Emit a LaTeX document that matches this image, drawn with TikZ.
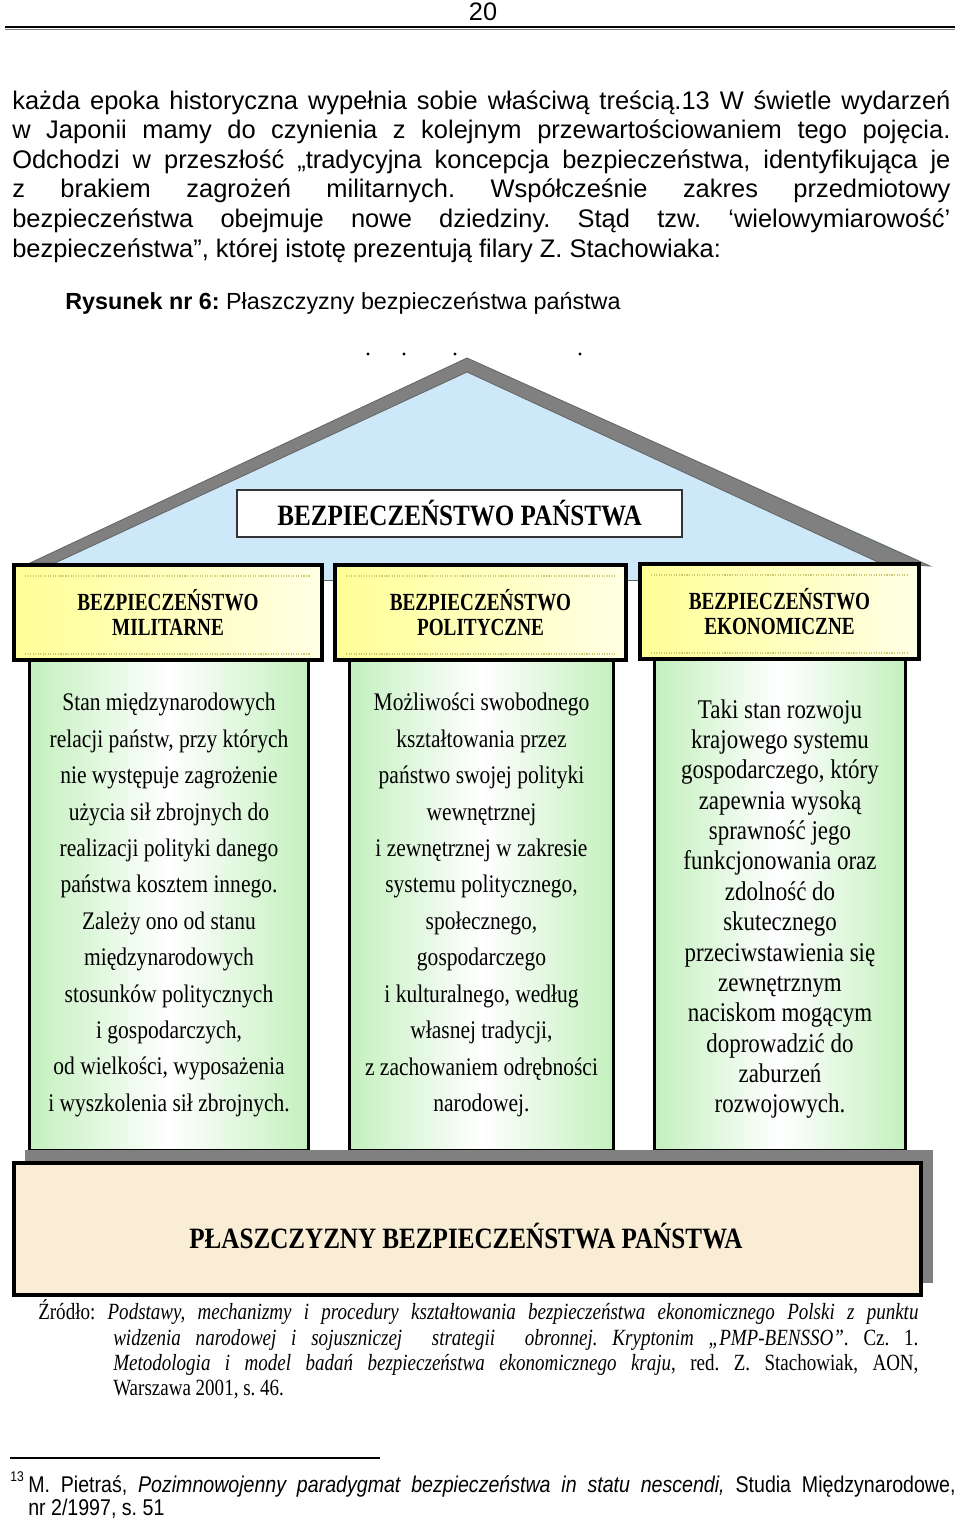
\documentclass[tikz,border=0pt]{standalone}
\usepackage{fontspec}
\setmainfont{Liberation Sans}
\newfontfamily\pillarfont[FakeStretch=0.85]{Liberation Serif}
\newfontfamily\capfont[FakeStretch=0.78]{Liberation Serif}
\newfontfamily\sourcefont[FakeStretch=0.82]{Liberation Serif}
\newfontfamily\notefont[FakeStretch=0.86]{Liberation Sans}
\usetikzlibrary{positioning,calc}
\definecolor{roofblue}{RGB}{204,232,249}
\definecolor{basebeige}{RGB}{249,237,214}
\definecolor{roofgray}{RGB}{128,128,128}
\definecolor{capyellow}{RGB}{255,255,150}
\definecolor{pilgreen}{RGB}{196,240,190}
\newcommand{\jline}[2]{\makebox[#1][s]{#2}}
\frenchspacing

\begin{document}
\begin{tikzpicture}[x=0.025cm, y=-0.025cm,
		bodyline/.style={anchor=base west, inner sep=0pt, font=\fontsize{18.1}{21}\selectfont},
		srcline/.style={anchor=base west, inner sep=0pt, font=\sourcefont\fontsize{16.5}{18}\selectfont},
		noteline/.style={anchor=base west, inner sep=0pt, font=\notefont\fontsize{16.2}{18}\selectfont},
		titlebox/.style={rectangle, draw=black!80, line width=1.1pt, fill=white, minimum width=11.125cm, minimum height=1.175cm, font=\pillarfont\bfseries\fontsize{21}{24}\selectfont},
		capital/.style={rectangle, draw=black, line width=2.8pt, left color=capyellow, right color=capyellow!25!white, minimum height=2.375cm, align=center, font=\capfont\bfseries\fontsize{17.5}{18}\selectfont},
		pillar/.style={rectangle, draw=black, line width=2.1pt, left color=pilgreen, right color=pilgreen, middle color=white, minimum height=12.25cm},
		pillartext/.style={align=center, inner sep=0pt, font=\pillarfont\fontsize{18}{25.9}\selectfont},
		capdots/.style={densely dotted, draw=olive!45, line width=0.8pt}
	]
	\useasboundingbox (0,0) rectangle (960,1521);
	% page head
	\node[anchor=base, inner sep=0pt, font=\fontsize{18}{21}\selectfont] (pagenum) at (483,20) {20};
	\draw[line width=1.6pt] (5,27) -- (955,27);
	\draw[gray, line width=1pt] (5,29.6) -- (955,29.6);
	% running text
	\node[bodyline] (line1) at (12,109) {\jline{23.45cm}{każda epoka historyczna wypełnia sobie właściwą treścią.13 W świetle wydarzeń}};
	\node[bodyline] (line2) at (12,138.6) {\jline{23.45cm}{w Japonii mamy do czynienia z kolejnym przewartościowaniem tego pojęcia.}};
	\node[bodyline] (line3) at (12,168.2) {\jline{23.45cm}{Odchodzi w przeszłość „tradycyjna koncepcja bezpieczeństwa, identyfikująca je}};
	\node[bodyline] (line4) at (12,197.8) {\jline{23.45cm}{z brakiem zagrożeń militarnych. Współcześnie zakres przedmiotowy}};
	\node[bodyline] (line5) at (12,227.4) {\jline{23.45cm}{bezpieczeństwa obejmuje nowe dziedziny. Stąd tzw. ‘wielowymiarowość’}};
	\node[bodyline] (line6) at (12,257) {bezpieczeństwa”, której istotę prezentują filary Z. Stachowiaka:};
	\node[bodyline, font=\fontsize{16.6}{20}\selectfont] (caption) at (65,309) {\textbf{Rysunek nr 6:} Płaszczyzny bezpieczeństwa państwa};
	% stray marks above the roof
	\foreach \dx in {368,404,455,580}
		\fill (\dx,354) circle[radius=1.1pt];
	% roof
	\fill[roofblue] (30,563) -- (467,358) -- (919,560) -- (919,580) -- (30,580) -- cycle;
	\draw[black!60, line width=0.6pt] (30,580) -- (919,580);
	\filldraw[fill=roofgray, draw=black!60, line width=0.6pt] (30,563) -- (467,358) -- (930,566) -- (880,563) -- (467,372) -- (55,563) -- cycle;
	\node[titlebox] (title) at (459.5,513.5) {BEZPIECZEŃSTWO PAŃSTWA};
	% pillars
	\node[pillar, minimum width=6.95cm] (pilmil) at (169,905) {};
	\node[pillar, minimum width=6.575cm] (pilpol) at (481.5,905) {};
	\node[pillar, minimum width=6.25cm] (pileko) at (780,905) {};
	\node[pillartext] (textmil) at (pilmil) {Stan międzynarodowych\\
		relacji państw, przy których\\
		nie występuje zagrożenie\\
		użycia sił zbrojnych do\\
		realizacji polityki danego\\
		państwa kosztem innego.\\
		Zależy ono od stanu\\
		międzynarodowych\\
		stosunków politycznych\\
		i gospodarczych,\\
		od wielkości, wyposażenia\\
		i wyszkolenia sił zbrojnych.};
	\node[pillartext] (textpol) at (pilpol) {Możliwości swobodnego\\
		kształtowania przez\\
		państwo swojej polityki\\
		wewnętrznej\\
		i zewnętrznej w zakresie\\
		systemu politycznego,\\
		społecznego,\\
		gospodarczego\\
		i kulturalnego, według\\
		własnej tradycji,\\
		z zachowaniem odrębności\\
		narodowej.};
	\node[pillartext, font=\pillarfont\fontsize{19.2}{21.6}\selectfont] (texteko) at ($(pileko)+(0,4)$) {Taki stan rozwoju\\
		krajowego systemu\\
		gospodarczego, który\\
		zapewnia wysoką\\
		sprawność jego\\
		funkcjonowania oraz\\
		zdolność do\\
		skutecznego\\
		przeciwstawienia się\\
		zewnętrznym\\
		naciskom mogącym\\
		doprowadzić do\\
		zaburzeń\\
		rozwojowych.};
	% capitals
	\node[capital, minimum width=7.7cm] (capmil) at (168,612.5) {BEZPIECZEŃSTWO\\MILITARNE};
	\node[capital, minimum width=7.275cm] (cappol) at (480.5,612.5) {BEZPIECZEŃSTWO\\POLITYCZNE};
	\node[capital, minimum width=6.975cm] (capeko) at (779.5,611.5) {BEZPIECZEŃSTWO\\EKONOMICZNE};
	\foreach \cap in {capmil,cappol,capeko} {
		\draw[capdots] ([shift={(13,13)}]\cap.north west) -- ([shift={(-13,13)}]\cap.north east);
		\draw[capdots] ([shift={(13,-8)}]\cap.south west) -- ([shift={(-13,-8)}]\cap.south east);
	}
	% base
	\fill[roofgray] (25,1150) rectangle (933,1283);
	\node[rectangle, draw=black, line width=2.8pt, fill=basebeige, minimum width=22.675cm, minimum height=3.3cm] (base) at (467.5,1229) {};
	\node[font=\pillarfont\bfseries\fontsize{21}{24}\selectfont, inner sep=0pt] (basetext) at (466,1236) {PŁASZCZYZNY BEZPIECZEŃSTWA PAŃSTWA};
	% source
	\node[srcline] (src1) at (38,1319) {\jline{22cm}{Źródło: \textit{Podstawy, mechanizmy i procedury kształtowania bezpieczeństwa ekonomicznego Polski z punktu}}};
	\node[srcline] (src2) at (113,1345) {\jline{20.125cm}{\textit{widzenia narodowej i sojuszniczej \ strategii \ obronnej. Kryptonim „PMP-BENSSO”}. Cz. 1.}};
	\node[srcline] (src3) at (113,1370) {\jline{20.125cm}{\textit{Metodologia i model badań bezpieczeństwa ekonomicznego kraju}, red. Z. Stachowiak, AON,}};
	\node[srcline] (src4) at (113,1395) {Warszawa 2001, s. 46.};
	% footnote
	\draw[line width=0.8pt] (10,1458) -- (380,1458);
	\node[anchor=base west, inner sep=0pt, font=\notefont\fontsize{10}{12}\selectfont] (fnmark) at (10,1481) {13};
	\node[noteline] (note1) at (28,1492) {\jline{23.175cm}{M. Pietraś, \textit{Pozimnowojenny paradygmat bezpieczeństwa in statu nescendi,} Studia Międzynarodowe,}};
	\node[noteline] (note2) at (28,1515) {nr 2/1997, s. 51};
\end{tikzpicture}
\end{document}
